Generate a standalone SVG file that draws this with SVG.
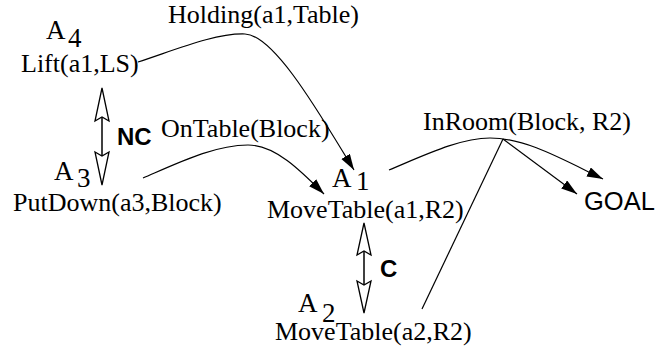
<svg xmlns="http://www.w3.org/2000/svg" width="657" height="352" viewBox="0 0 657 352">
<defs>
<marker id="ah" markerUnits="userSpaceOnUse" markerWidth="17" markerHeight="11" refX="16" refY="5" orient="auto">
<path d="M0,0 L16,5 L0,10 Z" fill="#000"/>
</marker>
<style>
.t{font-family:"Liberation Serif","Times New Roman",serif;font-size:26px;fill:#000}
.lab{font-family:"Liberation Serif","Times New Roman",serif;font-size:27px;fill:#000}
.b{font-family:"Liberation Sans",Arial,sans-serif;font-size:24px;font-weight:bold;fill:#000}
.g{font-family:"Liberation Sans",Arial,sans-serif;font-size:25.5px;fill:#000}
.c{fill:none;stroke:#000;stroke-width:1.2}
.shaft{fill:none;stroke:#000;stroke-width:1.5}
.head{fill:#fff;stroke:#000;stroke-width:1.3;stroke-linejoin:miter}
</style>
</defs>
<rect width="657" height="352" fill="#fff"/>
<g id="connectors">
<path class="c" d="M138,62 C175,50 215,33 245,34 C275,35 322,118 354,170" marker-end="url(#ah)"/>
<path class="c" d="M143,178 C180,162 215,145 248,145 C275,145 300,170 324,194" marker-end="url(#ah)"/>
<path class="c" d="M389,170 C425,155 460,138 490,138 C525,138 560,158 603,179" marker-end="url(#ah)"/>
<path class="c" d="M503,139 L577,194" marker-end="url(#ah)"/>
<path class="c" d="M422,309 L503,139"/>
<text class="t" x="168" y="23">Holding(a1,Table)</text>
<text class="t" x="161" y="137">OnTable(Block)</text>
<text class="t" x="423" y="130">InRoom(Block, R2)</text>
</g>
<g id="nc-link">
<line class="shaft" x1="102" y1="117" x2="102" y2="156"/>
<polygon class="head" points="102,88 95,121 102,117 109,121"/>
<polygon class="head" points="102,185 95,152 102,156 109,152"/>
<text class="b" x="117" y="145">NC</text>
</g>
<g id="c-link">
<line class="shaft" x1="364" y1="251" x2="364" y2="285"/>
<polygon class="head" points="364,223 357,255 364,251 371,255"/>
<polygon class="head" points="364,313 357,281 364,285 371,281"/>
<text class="b" x="380" y="277">C</text>
</g>
<g id="A4">
<text class="lab" x="46" y="39">A</text>
<text class="lab" x="68" y="47">4</text>
<text class="t" x="21" y="72">Lift(a1,LS)</text>
</g>
<g id="A3">
<text class="lab" x="54" y="180">A</text>
<text class="lab" x="77" y="187">3</text>
<text class="t" x="13" y="211">PutDown(a3,Block)</text>
</g>
<g id="A1">
<text class="lab" x="332" y="187">A</text>
<text class="lab" x="356" y="190">1</text>
<text class="t" x="267" y="218">MoveTable(a1,R2)</text>
</g>
<g id="A2">
<text class="lab" x="298" y="312">A</text>
<text class="lab" x="322" y="322">2</text>
<text class="t" x="275" y="340">MoveTable(a2,R2)</text>
</g>
<g id="GOAL">
<text class="g" x="584" y="210">GOAL</text>
</g>
</svg>
